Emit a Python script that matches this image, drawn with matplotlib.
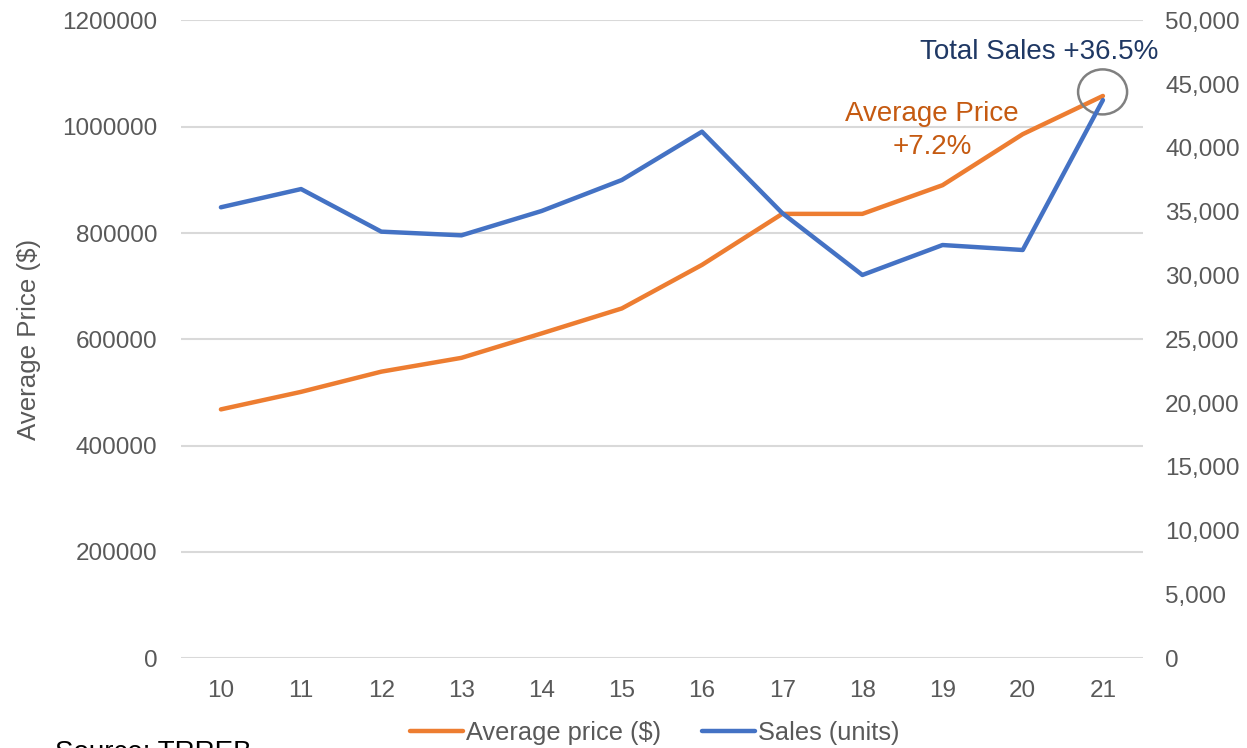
import matplotlib.pyplot as plt
from matplotlib.patches import Ellipse
from matplotlib.ticker import FuncFormatter

years = ['10', '11', '12', '13', '14', '15', '16', '17', '18', '19', '20', '21']
avg_price = [468000, 501000, 539000, 565000, 611000, 658000, 740000,
             836000, 836000, 890000, 986000, 1058000]
sales = [35350, 36780, 33440, 33150, 35060, 37490, 41280,
         34900, 30040, 32390, 32000, 43760]

orange = '#ED7D31'
blue = '#4472C4'
grey_txt = '#595959'

plt.rcParams['font.family'] = ['Liberation Sans', 'DejaVu Sans']
fs = 17.5

fig = plt.figure(figsize=(12.47, 7.48), dpi=100)
ax = fig.add_axes([0.145, 0.1203, 0.7716, 0.8523])
ax2 = ax.twinx()

x = list(range(len(years)))
l1, = ax.plot(x, avg_price, color=orange, lw=3.2, solid_capstyle='round',
              solid_joinstyle='round', label='Average price ($)', zorder=3)
l2, = ax2.plot(x, sales, color=blue, lw=3.2, solid_capstyle='round',
               solid_joinstyle='round', label='Sales (units)', zorder=3)

ax.set_xlim(-0.5, len(years) - 0.5)
ax.set_ylim(0, 1200000)
ax2.set_ylim(0, 50000)
ax.set_yticks(range(0, 1200001, 200000))
ax2.set_yticks(range(0, 50001, 5000))
ax.set_xticks(x)
ax.set_xticklabels(years)
ax.yaxis.set_major_formatter(FuncFormatter(lambda v, p: '{:.0f}'.format(v)))
ax2.yaxis.set_major_formatter(FuncFormatter(lambda v, p: '{:,.0f}'.format(v)))

ax.grid(axis='y', color='#D9D9D9', lw=1.5)
ax.set_axisbelow(True)
for a in (ax, ax2):
    for s in a.spines.values():
        s.set_visible(False)
    a.tick_params(length=0, labelsize=fs, labelcolor=grey_txt)
ax.tick_params(axis='y', pad=17)
ax.tick_params(axis='x', pad=16)
ax2.tick_params(axis='y', pad=16)

ax.set_ylabel('Average Price ($)', fontsize=18.6, color=grey_txt, labelpad=15)

# annotations
ax.text(8.87, 992000, 'Average Price\n+7.2%', color='#C55A11', fontsize=20,
        ha='center', va='center', linespacing=1.35)
ax.text(10.2, 1140000, 'Total Sales +36.5%', color='#1F3864', fontsize=20,
        ha='center', va='center')
circ = Ellipse((0.958, 0.888), width=49 / 962, height=45 / 637.5,
               transform=ax.transAxes, fill=False, ec='#808080', lw=1.8, zorder=5)
ax.add_patch(circ)

fig.legend(handles=[l1, l2], loc='center', bbox_to_anchor=(0.525, 0.02),
           ncol=2, frameon=False, fontsize=18.3, handlelength=2.1,
           handletextpad=0.1, columnspacing=1.6, labelcolor=grey_txt)

fig.text(0.044, -0.016, 'Source: TRREB', fontsize=20, color='black',
         va='baseline', ha='left')

fig.savefig('out.png', dpi=100)
